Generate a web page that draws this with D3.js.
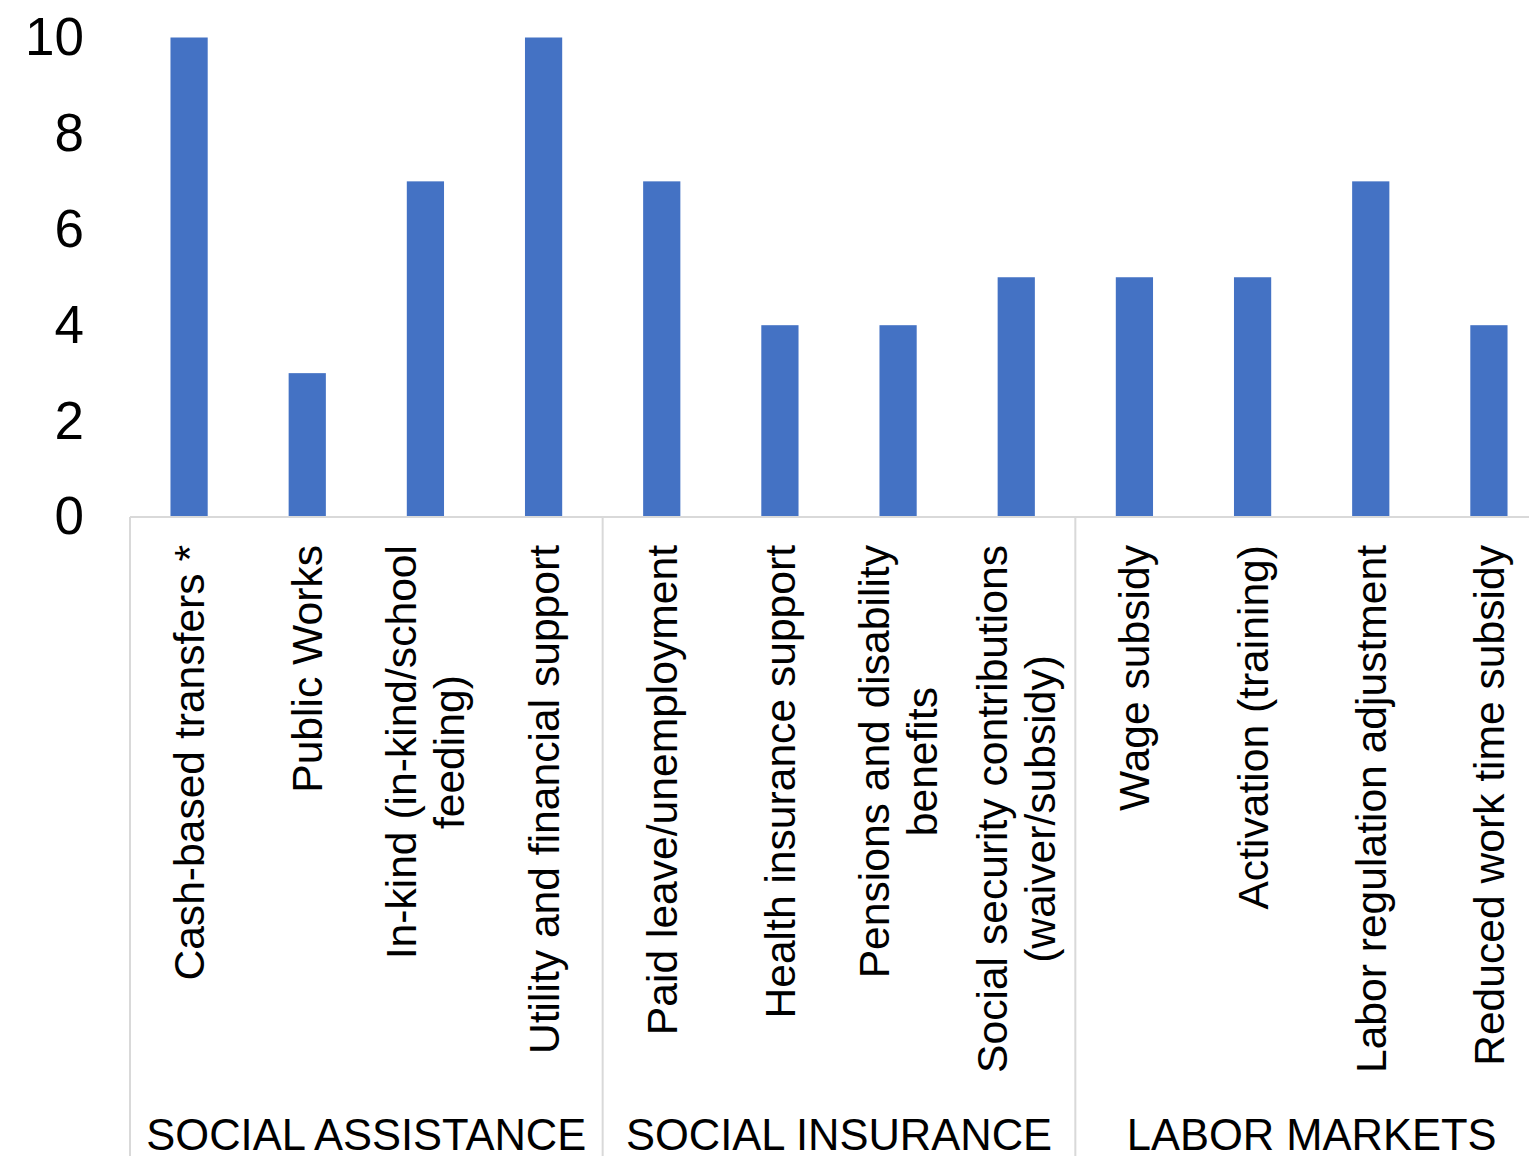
<!DOCTYPE html>
<html>
<head>
<meta charset="utf-8">
<script src="https://cdn.jsdelivr.net/npm/d3@7"></script>
<style>
  html, body { margin: 0; padding: 0; background: #fff; }
  svg { display: block; }
  text { font-family: "Liberation Sans", Arial, sans-serif; fill: #000; }
</style>
</head>
<body>
<svg id="chart" width="1529" height="1156"></svg>
<script>
// ---- data ----
const categories = [
  "Cash-based transfers *",
  "Public Works",
  "In-kind (in-kind/school\nfeeding)",
  "Utility and financial support",
  "Paid leave/unemployment",
  "Health insurance support",
  "Pensions and disability\nbenefits",
  "Social security contributions\n(waiver/subsidy)",
  "Wage subsidy",
  "Activation (training)",
  "Labor regulation adjustment",
  "Reduced work time subsidy"
];
const values = [10, 3, 7, 10, 7, 4, 4, 5, 5, 5, 7, 4];
const groups = ["SOCIAL ASSISTANCE", "SOCIAL INSURANCE", "LABOR MARKETS"];
const groupSizes = [4, 4, 4];
const yTicks = [0, 2, 4, 6, 8, 10];

// ---- layout ----
const svg = d3.select("#chart");
const left = 130, right = 1548, baseY = 517, topY = 37.5;
const x = d3.scaleBand().domain(d3.range(categories.length)).range([left, right])
  .paddingInner(0.685).paddingOuter(0.3425);
const y = d3.scaleLinear().domain([0, 10]).range([baseY, topY]);
const gridColor = "#d9d9d9";

// bars
svg.append("g").selectAll("rect").data(values).join("rect")
  .attr("x", (d, i) => x(i))
  .attr("width", x.bandwidth())
  .attr("y", d => y(d))
  .attr("height", d => y(0) - y(d))
  .attr("fill", "#4472c4");

// y axis labels (no line, no ticks)
const yAxis = d3.axisLeft(y).tickValues(yTicks).tickSize(0).tickPadding(0).tickFormat(d3.format("d"));
const yg = svg.append("g").attr("transform", "translate(84,0)").call(yAxis);
yg.select(".domain").remove();
yg.selectAll("text").attr("font-size", 53).attr("font-family", "'Liberation Sans', Arial, sans-serif")
  .attr("fill", "#000").attr("dy", "0.32em").attr("x", 0);

// horizontal axis line
svg.append("line").attr("x1", left).attr("x2", right).attr("y1", baseY).attr("y2", baseY)
  .attr("stroke", gridColor).attr("stroke-width", 2);

// group separators
const step = x.step();
let acc = 0;
const bounds = [0];
groupSizes.forEach(s => { acc += s; bounds.push(acc); });
bounds.forEach(b => {
  const bx = left + b * step;
  svg.append("line").attr("x1", bx).attr("x2", bx).attr("y1", baseY).attr("y2", 1156)
    .attr("stroke", gridColor).attr("stroke-width", 2);
});

// group labels
groups.forEach((g, gi) => {
  const cx = left + (bounds[gi] + bounds[gi + 1]) / 2 * step;
  svg.append("text").attr("x", cx).attr("y", 1150).attr("text-anchor", "middle")
    .attr("font-size", 43.5).text(g);
});

// category labels, rotated
const labelTop = 545, lineH = 48;
categories.forEach((c, i) => {
  const cx = x(i) + x.bandwidth() / 2;
  const lines = c.split("\n");
  const g = svg.append("g").attr("transform", `translate(${cx},${labelTop}) rotate(-90)`);
  const t = g.append("text").attr("font-size", 42.6).attr("text-anchor", "middle");
  const spans = lines.map((ln, li) => t.append("tspan").text(ln)
    .attr("y", (li - (lines.length - 1) / 2) * lineH)
    .attr("dy", "0.35em"));
  const maxW = d3.max(spans, s => s.node().getComputedTextLength());
  spans.forEach(s => s.attr("x", -maxW / 2));
});
</script>
</body>
</html>
